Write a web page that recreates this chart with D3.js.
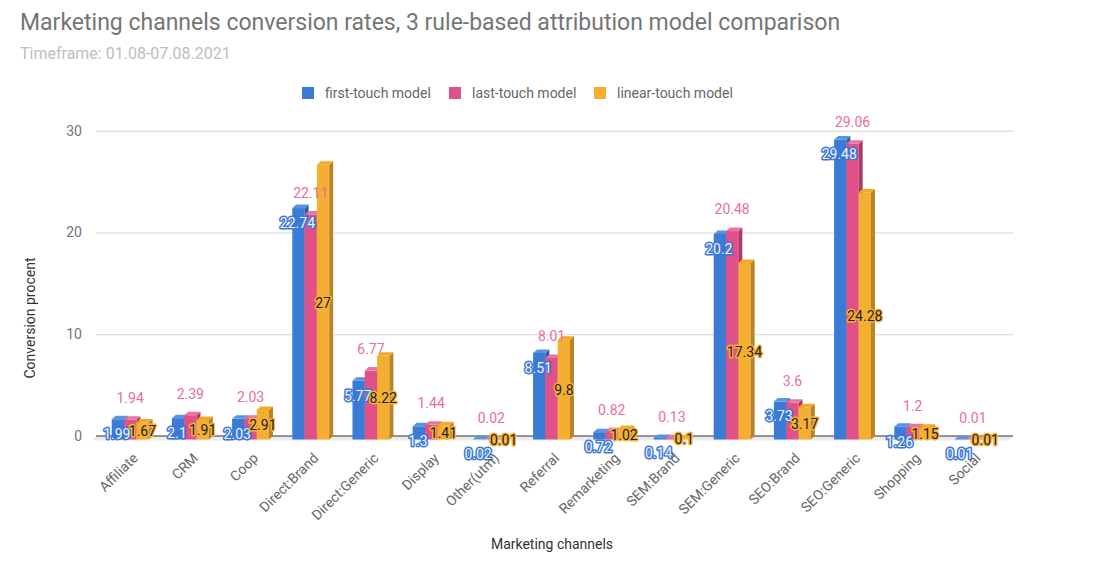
<!DOCTYPE html>
<html>
<head>
<meta charset="utf-8">
<script src="https://cdn.jsdelivr.net/npm/d3@7/dist/d3.min.js"></script>
<style>
  body { margin: 0; background: #fff; }
  svg { font-family: Roboto, "Noto Sans", sans-serif; }
</style>
</head>
<body>
<div id="chart"></div>
<script>
var categories = ["Affiliate", "CRM", "Coop", "Direct:Brand", "Direct:Generic", "Display", "Other(utm)",
    "Referral", "Remarketing", "SEM:Brand", "SEM:Generic", "SEO:Brand", "SEO:Generic", "Shopping", "Social"];
var firstTouch = [1.99, 2.1, 2.03, 22.74, 5.77, 1.3, 0.02, 8.51, 0.72, 0.14, 20.2, 3.73, 29.48, 1.26, 0.01];
var lastTouch = [1.94, 2.39, 2.03, 22.11, 6.77, 1.44, 0.02, 8.01, 0.82, 0.13, 20.48, 3.6, 29.06, 1.2, 0.01];
var linearTouch = [1.67, 1.91, 2.91, 27, 8.22, 1.41, 0.01, 9.8, 1.02, 0.1, 17.34, 3.17, 24.28, 1.15, 0.01];
var seriesNames = ["first-touch model", "last-touch model", "linear-touch model"];
var yTicks = [0, 10, 20, 30];

var width = 1107, height = 570;
var depthX = 4, depthY = 3.5;   // fake 3d offset
var barW = 12.3;

// colours: front, side, top
var palette = [
    { front: "#3a7bd5", side: "#2b5ea6", top: "#5b93e2" },
    { front: "#e2508a", side: "#a93c68", top: "#ea74a3" },
    { front: "#f5af30", side: "#b98327", top: "#f2a928" }
];

var series = [firstTouch, lastTouch, linearTouch];

var svg = d3.select("#chart").append("svg")
    .attr("width", width)
    .attr("height", height);

svg.append("text")
    .attr("x", 20).attr("y", 30)
    .attr("font-size", 23)
    .attr("fill", "#757575")
    .text("Marketing channels conversion rates, 3 rule-based attribution model comparison");

svg.append("text")
    .attr("x", 20).attr("y", 59)
    .attr("font-size", 16)
    .attr("fill", "#bdbdbd")
    .text("Timeframe: 01.08-07.08.2021");

// legend
var legendX = [302, 449, 594];
var legend = svg.append("g").selectAll("g")
    .data(seriesNames)
    .enter().append("g")
    .attr("transform", function (d, i) { return "translate(" + legendX[i] + ",87)"; });
legend.append("rect")
    .attr("width", 12).attr("height", 12)
    .attr("fill", function (d, i) { return palette[i].front; });
legend.append("text")
    .attr("x", 23).attr("y", 6)
    .attr("dy", "0.35em")
    .attr("font-size", 14)
    .attr("fill", "#666")
    .text(function (d) { return d; });

var x = d3.scaleBand()
    .domain(categories)
    .range([99.6, 1002.6]);

var y = d3.scaleLinear()
    .domain([0, 30])
    .range([436, 130.7]);

var gridLeft = 96, gridRight = 1013;
var y0 = y(0);

// gridlines + tick labels
var grid = svg.append("g");
grid.selectAll("line")
    .data(yTicks.filter(function (t) { return t > 0; }))
    .enter().append("line")
    .attr("x1", gridLeft).attr("x2", gridRight)
    .attr("y1", function (d) { return y(d) + 0.5; })
    .attr("y2", function (d) { return y(d) + 0.5; })
    .attr("stroke", "#d6d6d6");
grid.selectAll("text")
    .data(yTicks)
    .enter().append("text")
    .attr("x", 82)
    .attr("y", function (d) { return y(d); })
    .attr("dy", "0.35em")
    .attr("text-anchor", "end")
    .attr("font-size", 14)
    .attr("fill", "#757575")
    .text(function (d) { return d; });

// floor
svg.append("polygon")
    .attr("points", [[gridLeft, y0], [gridRight, y0], [gridRight - depthX, y0 + depthY + 1], [gridLeft - depthX, y0 + depthY + 1]].join(" "))
    .attr("fill", "#ececec");
svg.append("line")
    .attr("x1", gridLeft).attr("x2", gridRight)
    .attr("y1", y0).attr("y2", y0)
    .attr("stroke", "#333");

// bars
var rows = categories.map(function (c, ci) {
    return series.map(function (s, si) {
        return { cat: c, si: si, value: s[ci] };
    });
});

function barLeft(d) {
    return x(d.cat) + x.bandwidth() / 2 - 18 + d.si * barW;
}

var groups = svg.append("g").selectAll("g")
    .data(rows)
    .enter().append("g");

var bars = groups.selectAll("g")
    .data(function (d) { return d; })
    .enter().append("g");

bars.append("rect")
    .attr("x", barLeft)
    .attr("y", function (d) { return y(d.value) + depthY; })
    .attr("width", barW)
    .attr("height", function (d) { return y0 - y(d.value); })
    .attr("fill", function (d) { return palette[d.si].front; });

bars.append("polygon")
    .attr("points", function (d) {
        var l = barLeft(d) + barW, t = y(d.value);
        return [[l, t + depthY], [l + depthX, t], [l + depthX, y0], [l, y0 + depthY]].join(" ");
    })
    .attr("fill", function (d) { return palette[d.si].side; });

bars.append("polygon")
    .attr("points", function (d) {
        var l = barLeft(d), t = y(d.value);
        return [[l, t + depthY], [l + depthX, t], [l + barW + depthX, t], [l + barW, t + depthY]].join(" ");
    })
    .attr("fill", function (d) { return palette[d.si].top; });

// value labels, drawn after every bar
svg.append("g").selectAll("text")
    .data(d3.merge(rows))
    .enter().append("text")
    .attr("x", function (d) { return barLeft(d) + barW / 2 - (d.si === 0 ? 1 : 0); })
    .attr("y", function (d) {
        if (d.si === 0) return y(d.value) + 18.5;
        if (d.si === 1) return y(d.value) - 18;
        return (y(d.value) + y0) / 2 + 4;
    })
    .attr("dy", "0.35em")
    .attr("text-anchor", "middle")
    .attr("font-size", 14)
    .style("paint-order", "stroke")
    .attr("stroke-linejoin", "round")
    .attr("stroke-width", function (d) { return d.si === 1 ? 0 : 3; })
    .attr("stroke", function (d) { return d.si === 0 ? "#3b78d8" : d.si === 2 ? "#f6b133" : "none"; })
    .attr("fill", function (d) { return d.si === 0 ? "#eef4fe" : d.si === 1 ? "#ec6e9c" : "#222"; })
    .text(function (d) { return d.value; });

// category labels
svg.append("g").selectAll("text")
    .data(categories)
    .enter().append("text")
    .attr("transform", function (d) {
        return "translate(" + (x(d) + x.bandwidth() / 2 + 9) + ",459) rotate(-45)";
    })
    .attr("text-anchor", "end")
    .attr("font-size", 14)
    .attr("fill", "#666")
    .text(function (d) { return d; });

// axis titles
svg.append("text")
    .attr("x", 552).attr("y", 549)
    .attr("text-anchor", "middle")
    .attr("font-size", 14)
    .attr("fill", "#333")
    .text("Marketing channels");

svg.append("text")
    .attr("transform", "translate(35,318) rotate(-90)")
    .attr("text-anchor", "middle")
    .attr("font-size", 14)
    .attr("fill", "#333")
    .text("Conversion procent");
</script>
</body>
</html>
